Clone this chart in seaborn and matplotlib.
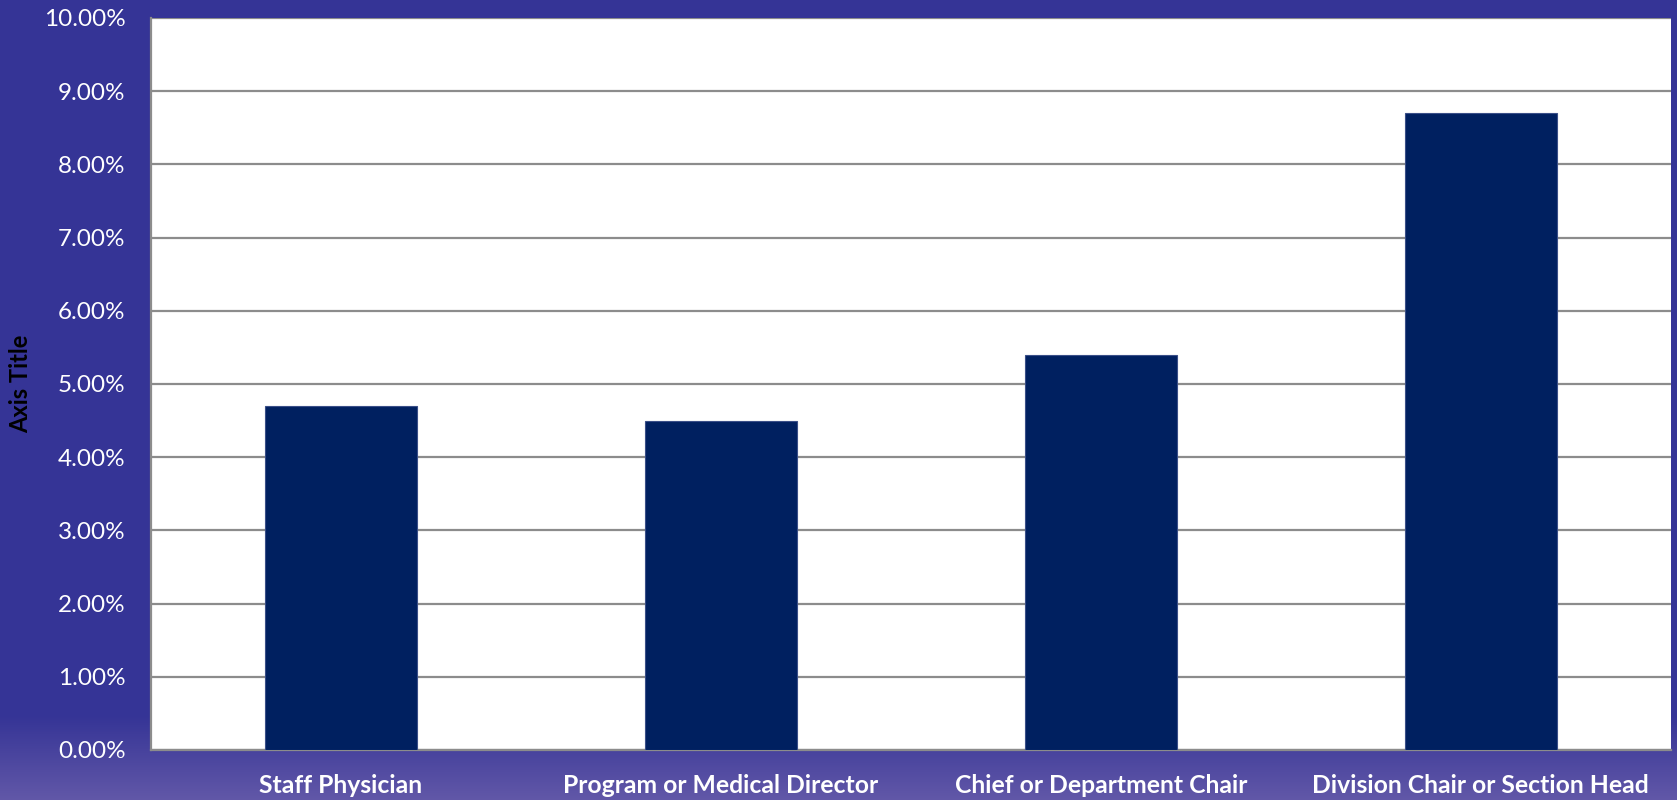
import numpy as np
import pandas as pd
import matplotlib
matplotlib.use("Agg")
import matplotlib.pyplot as plt
from matplotlib.ticker import PercentFormatter, FixedLocator
import seaborn as sns

categories = ["Staff Physician", "Program or Medical Director",
              "Chief or Department Chair", "Division Chair or Section Head"]
values = [4.7, 4.5, 5.4, 8.7]
y_ticks = [0, 1, 2, 3, 4, 5, 6, 7, 8, 9, 10]

df = pd.DataFrame({"role": categories, "share": values})

sns.set_theme(style="white")
plt.rcParams["font.family"] = ["Lato", "DejaVu Sans"]

fig = plt.figure(figsize=(16.77, 8.0), dpi=100)

# purple slide background with a lighter band along the bottom
bg = fig.add_axes([0, 0, 1, 1], zorder=-10)
h = 800
grad = np.zeros((h, 1, 3))
base = np.array([53, 52, 150]) / 255.0
light = np.array([98, 88, 168]) / 255.0
for i in range(h):
    if i < 715:
        grad[i, 0] = base
    else:
        t = min(1.0, (i - 715) / 85.0)
        grad[i, 0] = base + (light - base) * t
bg.imshow(grad, aspect="auto", extent=[0, 1, 0, 1], origin="upper")
bg.set_axis_off()

ax = fig.add_axes([150.7 / 1677, 50 / 800, 1520 / 1677, 732 / 800])
ax.set_facecolor("white")
sns.barplot(data=df, x="role", y="share", color="#002060", width=0.4,
            saturation=1, edgecolor="#3a4f88", linewidth=0.8, ax=ax, zorder=3)

ax.set_ylim(0, 10)
ax.set_xlim(-0.5, 3.5)
ax.yaxis.set_major_locator(FixedLocator(y_ticks))
ax.yaxis.set_major_formatter(PercentFormatter(decimals=2))
ax.grid(axis="y", color="#8c8c8c", linewidth=1.6, zorder=0)
ax.set_axisbelow(True)

for s in ["top", "right"]:
    ax.spines[s].set_visible(False)
for s in ["left", "bottom"]:
    ax.spines[s].set_color("#8c8c8c")
    ax.spines[s].set_linewidth(1.6)

ax.tick_params(axis="y", length=0, pad=18, labelsize=17.5, labelcolor="white")
ax.tick_params(axis="x", length=0, pad=17, labelsize=17.8, labelcolor="white")
for lbl in ax.get_xticklabels():
    lbl.set_fontweight("bold")

# boundary tick marks between categories
ax.set_xticks([-0.5, 0.5, 1.5, 2.5, 3.5], minor=True)
ax.tick_params(axis="x", which="minor", length=7, width=1.6, color="#8c8c8c",
               direction="out")

ax.set_xlabel("")
ax.set_ylabel("Axis Title", fontsize=17, fontweight="bold", color="black",
              labelpad=0)
ax.yaxis.set_label_coords(-(150.7 - 32) / 1520, 0.5)

fig.savefig("out.png", dpi=100)
